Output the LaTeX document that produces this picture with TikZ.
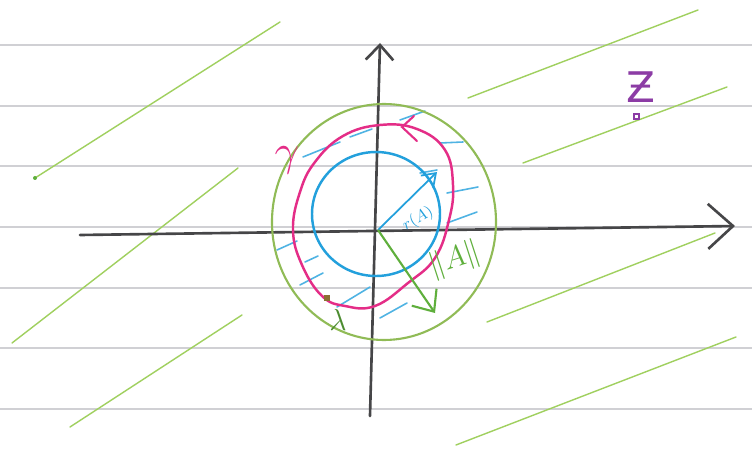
\documentclass[tikz,border=0pt]{standalone}
\usepackage{fontspec}
\newfontfamily\dejavu{DejaVu Sans}
\usetikzlibrary{arrows.meta}

\definecolor{ruled}{RGB}{208,208,212}
\definecolor{axisgray}{RGB}{70,70,72}
\definecolor{lightgreen}{RGB}{160,208,95}
\definecolor{pengreen}{RGB}{95,175,60}
\definecolor{penpink}{RGB}{228,45,135}
\definecolor{pencyan}{RGB}{35,160,220}
\definecolor{penpurple}{RGB}{140,60,165}
\definecolor{penbrown}{RGB}{140,110,50}

\begin{document}
\begin{tikzpicture}[x=0.02cm,y=-0.02cm]
	\tikzstyle{paperline}=[draw=ruled,line width=1pt]
	\tikzstyle{greenhatch}=[draw=lightgreen,line width=0.8pt,line cap=round]
	\tikzstyle{cyanhatch}=[draw=pencyan!80,line width=0.9pt,line cap=round]
	\tikzstyle{axis}=[draw=axisgray,line width=1.5pt,line cap=round]

	\useasboundingbox (0,0) rectangle (752,456);
	\fill[white] (0,0) rectangle (752,456);

	% ruled paper
	\foreach \y in {45,106,166,227,288,348,409}
		\draw[paperline] (0,\y) -- (752,\y);

	% hatching of the outside
	\foreach \xa/\ya/\xb/\yb in {35/178/280/22, 468/98/698/10, 523/163/727/87, 12/343/238/168, 70/427/242/315, 487/322/715/233, 456/445/736/337}
		\draw[greenhatch] (\xa,\ya) -- (\xb,\yb);
	\fill[pengreen] (35,178) circle (2);

	% hatching between the curves
	\foreach \xa/\ya/\xb/\yb in {303/157/340/142, 350/137/372/129, 400/120/425/111, 440/143/463/142, 420/173/437/170, 447/193/478/187, 447/223/477/212, 277/250/297/241, 300/285/323/273, 337/307/370/287, 380/318/407/303, 305/262/318/256}
		\draw[cyanhatch] (\xa,\ya) -- (\xb,\yb);

	% axes
	\coordinate (xl) at (80,235);
	\coordinate (xr) at (735,226);
	\coordinate (yb) at (370,416);
	\coordinate (yt) at (380,43);
	\draw[axis,-{Straight Barb[length=0.5cm,width=0.9cm,line width=1.5pt]}] (xl) -- (xr);
	\draw[axis,-{Straight Barb[length=0.3cm,width=0.55cm,line width=1.5pt]}] (yb) -- (yt);

	% disc of radius ||A||
	\draw[draw=lightgreen!90!black,line width=1.2pt] (384,222) ellipse [x radius=112,y radius=118];

	% contour gamma
	\draw[draw=penpink,line width=1.4pt] plot[smooth cycle,tension=0.7] coordinates {(380,125) (417,129) (445,150) (453,185) (449,220) (435,258) (408,283) (375,306) (345,306) (322,296) (302,265) (293,230) (300,192) (315,162) (343,136)};
	\draw[draw=penpink,line width=1.2pt,line cap=round] (414,116) -- (402,127) -- (417,141);

	% spectral radius circle
	\draw[draw=pencyan,line width=1.4pt] (376,214) ellipse [x radius=64,y radius=62];

	\coordinate (O) at (378,230);
	\coordinate (rA) at (437,172);
	\coordinate (nA) at (435,313);
	\draw[draw=pencyan,line width=1pt,-{Straight Barb[length=0.25cm,width=0.35cm]}] (O) -- (rA);
	\draw[draw=pengreen,line width=1.2pt,-{Straight Barb[length=0.35cm,width=0.6cm]}] (O) -- (nA);

	% point lambda on gamma
	\fill[penbrown] (324,295) rectangle (330,301);

	% labels
	\node[text=pencyan,rotate=30,font=\small] (rlab) at (418,219) {$r(A)$};
	\node[text=pengreen,rotate=18,font=\LARGE] (nlab) at (455,260) {$\|A\|$};
	\node[text=penpink,font=\fontsize{36}{36}\selectfont] (glab) at (287,160) {$\gamma$};
	\node[text=pengreen!80!black,font=\LARGE] (llab) at (338,320) {$\lambda$};
	\node[text=penpurple,font=\dejavu\fontsize{24}{24}\selectfont] (zlab) at (641,87) {Ƶ};
	\draw[draw=penpurple,line width=0.8pt] (634,114) rectangle (639,119);
\end{tikzpicture}
\end{document}
